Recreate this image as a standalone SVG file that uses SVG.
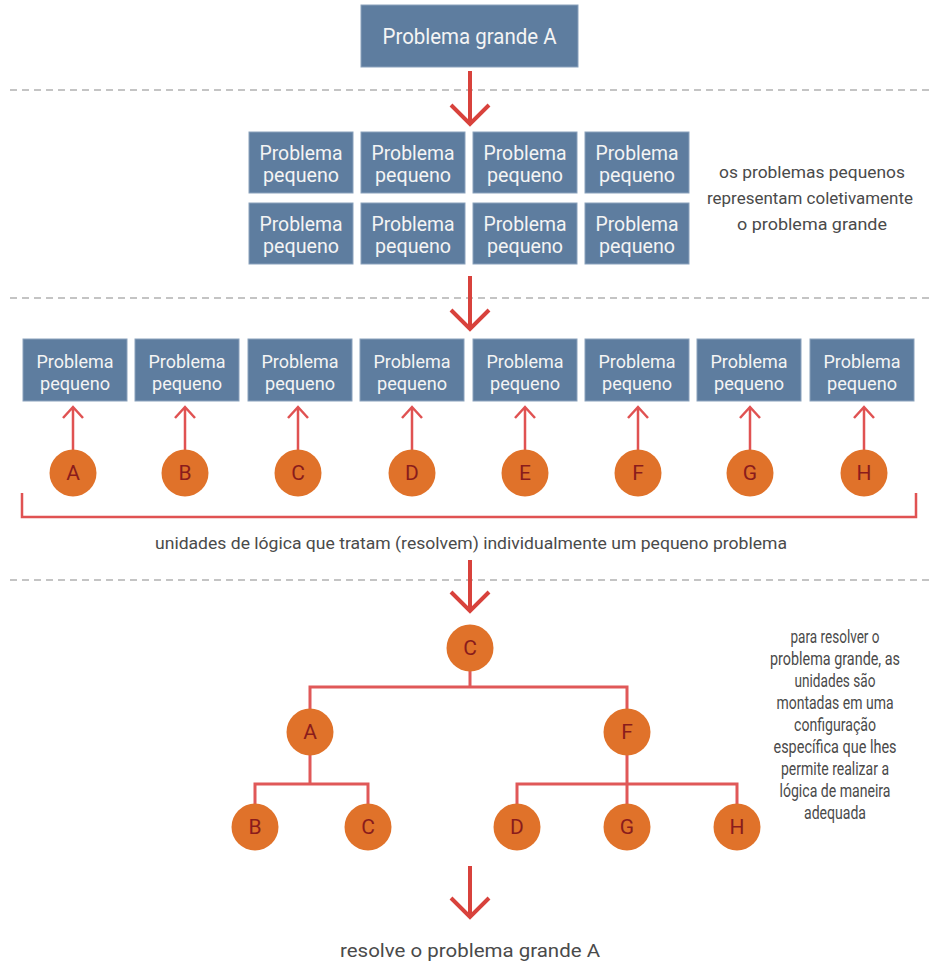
<svg xmlns="http://www.w3.org/2000/svg" width="939" height="967" viewBox="0 0 939 967">
<defs>
<style>
.box{fill:#5e7d9f;stroke:#8aa2bc;stroke-width:1}
.bt{font-family:Roboto,"Liberation Sans",sans-serif;fill:#f4f4f4;text-anchor:middle}
.dash{stroke:#c4c4c4;stroke-width:2.2;stroke-dasharray:7 5;fill:none}
.big{stroke:#d8423c;stroke-width:4;fill:none;stroke-linecap:butt}
.small{stroke:#e05252;stroke-width:2.5;fill:none}
.tree{stroke:#e05858;stroke-width:3;fill:none}
.circ{fill:#e0722a}
.lt{font-family:Roboto,"Liberation Sans",sans-serif;fill:#8a1c1c;font-size:21px;text-anchor:middle}
.gt{font-family:Roboto,"Liberation Sans",sans-serif;fill:#4a4a4a;font-size:17px;text-anchor:middle}
.nt{font-family:Roboto,"Liberation Sans",sans-serif;fill:#4a4a4a;font-size:17.5px;text-anchor:middle}
</style>
</defs>
<rect width="939" height="967" fill="#ffffff"/>

<g id="separators">
<line class="dash" x1="10" y1="90" x2="930" y2="90"/>
<line class="dash" x1="10" y1="298" x2="930" y2="298"/>
<line class="dash" x1="10" y1="580" x2="930" y2="580"/>
</g>

<g id="connectors">
<path class="big" d="M470 71V124M451 105L470 124L489 105"/>
<path class="big" d="M470 276V329M451 310L470 329L489 310"/>
<path class="big" d="M470 560V611M451 592L470 611L489 592"/>
<path class="big" d="M470 866V917M451 898L470 917L489 898"/>
<g class="small">
<path d="M73 450V407M63 418L73 407L83 418"/>
<path d="M185 450V407M175 418L185 407L195 418"/>
<path d="M298 450V407M288 418L298 407L308 418"/>
<path d="M412 450V407M402 418L412 407L422 418"/>
<path d="M525 450V407M515 418L525 407L535 418"/>
<path d="M638 450V407M628 418L638 407L648 418"/>
<path d="M750 450V407M740 418L750 407L760 418"/>
<path d="M864 450V407M854 418L864 407L874 418"/>
</g>
<path class="small" d="M22 493V517H916V493"/>
<g class="tree">
<path d="M470 670V687M310 710V687H627V710"/>
<path d="M310 755V784M255 806V784H368V806"/>
<path d="M627 755V784M517 806V784H737V806M627 784V806"/>
</g>
</g>

<g id="top">
<rect class="box" x="361" y="5" width="217" height="62"/>
<text class="bt" x="469.5" y="44" font-size="22" textLength="174" lengthAdjust="spacingAndGlyphs">Problema grande A</text>
</g>

<g id="grid">
<g id="g1"><rect class="box" x="249" y="132" width="104" height="61"/><text class="bt" x="301" y="160" font-size="21" textLength="83" lengthAdjust="spacingAndGlyphs">Problema</text><text class="bt" x="301" y="182" font-size="21" textLength="76" lengthAdjust="spacingAndGlyphs">pequeno</text></g>
<g id="g2"><rect class="box" x="361" y="132" width="104" height="61"/><text class="bt" x="413" y="160" font-size="21" textLength="83" lengthAdjust="spacingAndGlyphs">Problema</text><text class="bt" x="413" y="182" font-size="21" textLength="76" lengthAdjust="spacingAndGlyphs">pequeno</text></g>
<g id="g3"><rect class="box" x="473" y="132" width="104" height="61"/><text class="bt" x="525" y="160" font-size="21" textLength="83" lengthAdjust="spacingAndGlyphs">Problema</text><text class="bt" x="525" y="182" font-size="21" textLength="76" lengthAdjust="spacingAndGlyphs">pequeno</text></g>
<g id="g4"><rect class="box" x="585" y="132" width="104" height="61"/><text class="bt" x="637" y="160" font-size="21" textLength="83" lengthAdjust="spacingAndGlyphs">Problema</text><text class="bt" x="637" y="182" font-size="21" textLength="76" lengthAdjust="spacingAndGlyphs">pequeno</text></g>
<g id="g5"><rect class="box" x="249" y="203" width="104" height="61"/><text class="bt" x="301" y="231" font-size="21" textLength="83" lengthAdjust="spacingAndGlyphs">Problema</text><text class="bt" x="301" y="253" font-size="21" textLength="76" lengthAdjust="spacingAndGlyphs">pequeno</text></g>
<g id="g6"><rect class="box" x="361" y="203" width="104" height="61"/><text class="bt" x="413" y="231" font-size="21" textLength="83" lengthAdjust="spacingAndGlyphs">Problema</text><text class="bt" x="413" y="253" font-size="21" textLength="76" lengthAdjust="spacingAndGlyphs">pequeno</text></g>
<g id="g7"><rect class="box" x="473" y="203" width="104" height="61"/><text class="bt" x="525" y="231" font-size="21" textLength="83" lengthAdjust="spacingAndGlyphs">Problema</text><text class="bt" x="525" y="253" font-size="21" textLength="76" lengthAdjust="spacingAndGlyphs">pequeno</text></g>
<g id="g8"><rect class="box" x="585" y="203" width="104" height="61"/><text class="bt" x="637" y="231" font-size="21" textLength="83" lengthAdjust="spacingAndGlyphs">Problema</text><text class="bt" x="637" y="253" font-size="21" textLength="76" lengthAdjust="spacingAndGlyphs">pequeno</text></g>
</g>

<g id="note1">
<text class="gt" x="812" y="178" textLength="186" lengthAdjust="spacingAndGlyphs">os problemas pequenos</text>
<text class="gt" x="810" y="204" textLength="206" lengthAdjust="spacingAndGlyphs">representam coletivamente</text>
<text class="gt" x="812" y="230" textLength="150" lengthAdjust="spacingAndGlyphs">o problema grande</text>
</g>

<g id="row">
<g id="r1"><rect class="box" x="23" y="339" width="104" height="62"/><text class="bt" x="75" y="368" font-size="19" textLength="77" lengthAdjust="spacingAndGlyphs">Problema</text><text class="bt" x="75" y="390" font-size="19" textLength="70" lengthAdjust="spacingAndGlyphs">pequeno</text></g>
<g id="r2"><rect class="box" x="135" y="339" width="104" height="62"/><text class="bt" x="187" y="368" font-size="19" textLength="77" lengthAdjust="spacingAndGlyphs">Problema</text><text class="bt" x="187" y="390" font-size="19" textLength="70" lengthAdjust="spacingAndGlyphs">pequeno</text></g>
<g id="r3"><rect class="box" x="248" y="339" width="104" height="62"/><text class="bt" x="300" y="368" font-size="19" textLength="77" lengthAdjust="spacingAndGlyphs">Problema</text><text class="bt" x="300" y="390" font-size="19" textLength="70" lengthAdjust="spacingAndGlyphs">pequeno</text></g>
<g id="r4"><rect class="box" x="360" y="339" width="104" height="62"/><text class="bt" x="412" y="368" font-size="19" textLength="77" lengthAdjust="spacingAndGlyphs">Problema</text><text class="bt" x="412" y="390" font-size="19" textLength="70" lengthAdjust="spacingAndGlyphs">pequeno</text></g>
<g id="r5"><rect class="box" x="473" y="339" width="104" height="62"/><text class="bt" x="525" y="368" font-size="19" textLength="77" lengthAdjust="spacingAndGlyphs">Problema</text><text class="bt" x="525" y="390" font-size="19" textLength="70" lengthAdjust="spacingAndGlyphs">pequeno</text></g>
<g id="r6"><rect class="box" x="585" y="339" width="104" height="62"/><text class="bt" x="637" y="368" font-size="19" textLength="77" lengthAdjust="spacingAndGlyphs">Problema</text><text class="bt" x="637" y="390" font-size="19" textLength="70" lengthAdjust="spacingAndGlyphs">pequeno</text></g>
<g id="r7"><rect class="box" x="697" y="339" width="104" height="62"/><text class="bt" x="749" y="368" font-size="19" textLength="77" lengthAdjust="spacingAndGlyphs">Problema</text><text class="bt" x="749" y="390" font-size="19" textLength="70" lengthAdjust="spacingAndGlyphs">pequeno</text></g>
<g id="r8"><rect class="box" x="810" y="339" width="104" height="62"/><text class="bt" x="862" y="368" font-size="19" textLength="77" lengthAdjust="spacingAndGlyphs">Problema</text><text class="bt" x="862" y="390" font-size="19" textLength="70" lengthAdjust="spacingAndGlyphs">pequeno</text></g>
</g>

<g id="units">
<g id="uA"><circle class="circ" cx="73" cy="473" r="23.5"/><text class="lt" x="73" y="480">A</text></g>
<g id="uB"><circle class="circ" cx="185" cy="473" r="23.5"/><text class="lt" x="185" y="480">B</text></g>
<g id="uC"><circle class="circ" cx="298" cy="473" r="23.5"/><text class="lt" x="298" y="480">C</text></g>
<g id="uD"><circle class="circ" cx="412" cy="473" r="23.5"/><text class="lt" x="412" y="480">D</text></g>
<g id="uE"><circle class="circ" cx="525" cy="473" r="23.5"/><text class="lt" x="525" y="480">E</text></g>
<g id="uF"><circle class="circ" cx="638" cy="473" r="23.5"/><text class="lt" x="638" y="480">F</text></g>
<g id="uG"><circle class="circ" cx="750" cy="473" r="23.5"/><text class="lt" x="750" y="480">G</text></g>
<g id="uH"><circle class="circ" cx="864" cy="473" r="23.5"/><text class="lt" x="864" y="480">H</text></g>
</g>

<g id="caption1">
<text class="gt" x="471" y="549" textLength="632" lengthAdjust="spacingAndGlyphs">unidades de lógica que tratam (resolvem) individualmente um pequeno problema</text>
</g>

<g id="tree">
<g id="tC"><circle class="circ" cx="470" cy="648" r="23.5"/><text class="lt" x="470" y="655">C</text></g>
<g id="tA"><circle class="circ" cx="310" cy="732" r="23.5"/><text class="lt" x="310" y="739">A</text></g>
<g id="tF"><circle class="circ" cx="627" cy="732" r="23.5"/><text class="lt" x="627" y="739">F</text></g>
<g id="tB"><circle class="circ" cx="255" cy="827" r="23.5"/><text class="lt" x="255" y="834">B</text></g>
<g id="tC2"><circle class="circ" cx="368" cy="827" r="23.5"/><text class="lt" x="368" y="834">C</text></g>
<g id="tD"><circle class="circ" cx="517" cy="827" r="23.5"/><text class="lt" x="517" y="834">D</text></g>
<g id="tG"><circle class="circ" cx="627" cy="827" r="23.5"/><text class="lt" x="627" y="834">G</text></g>
<g id="tH"><circle class="circ" cx="737" cy="827" r="23.5"/><text class="lt" x="737" y="834">H</text></g>
</g>

<g id="note2">
<text class="nt" x="835" y="643" textLength="89" lengthAdjust="spacingAndGlyphs">para resolver o</text>
<text class="nt" x="835" y="665" textLength="130" lengthAdjust="spacingAndGlyphs">problema grande, as</text>
<text class="nt" x="835" y="687" textLength="81" lengthAdjust="spacingAndGlyphs">unidades são</text>
<text class="nt" x="835" y="709" textLength="117" lengthAdjust="spacingAndGlyphs">montadas em uma</text>
<text class="nt" x="835" y="731" textLength="82" lengthAdjust="spacingAndGlyphs">configuração</text>
<text class="nt" x="835" y="753" textLength="123" lengthAdjust="spacingAndGlyphs">específica que lhes</text>
<text class="nt" x="835" y="775" textLength="108" lengthAdjust="spacingAndGlyphs">permite realizar a</text>
<text class="nt" x="835" y="797" textLength="111" lengthAdjust="spacingAndGlyphs">lógica de maneira</text>
<text class="nt" x="835" y="819" textLength="62" lengthAdjust="spacingAndGlyphs">adequada</text>
</g>

<g id="result">
<text class="gt" x="470" y="957" style="font-size:19px" textLength="260" lengthAdjust="spacingAndGlyphs">resolve o problema grande A</text>
</g>
</svg>
